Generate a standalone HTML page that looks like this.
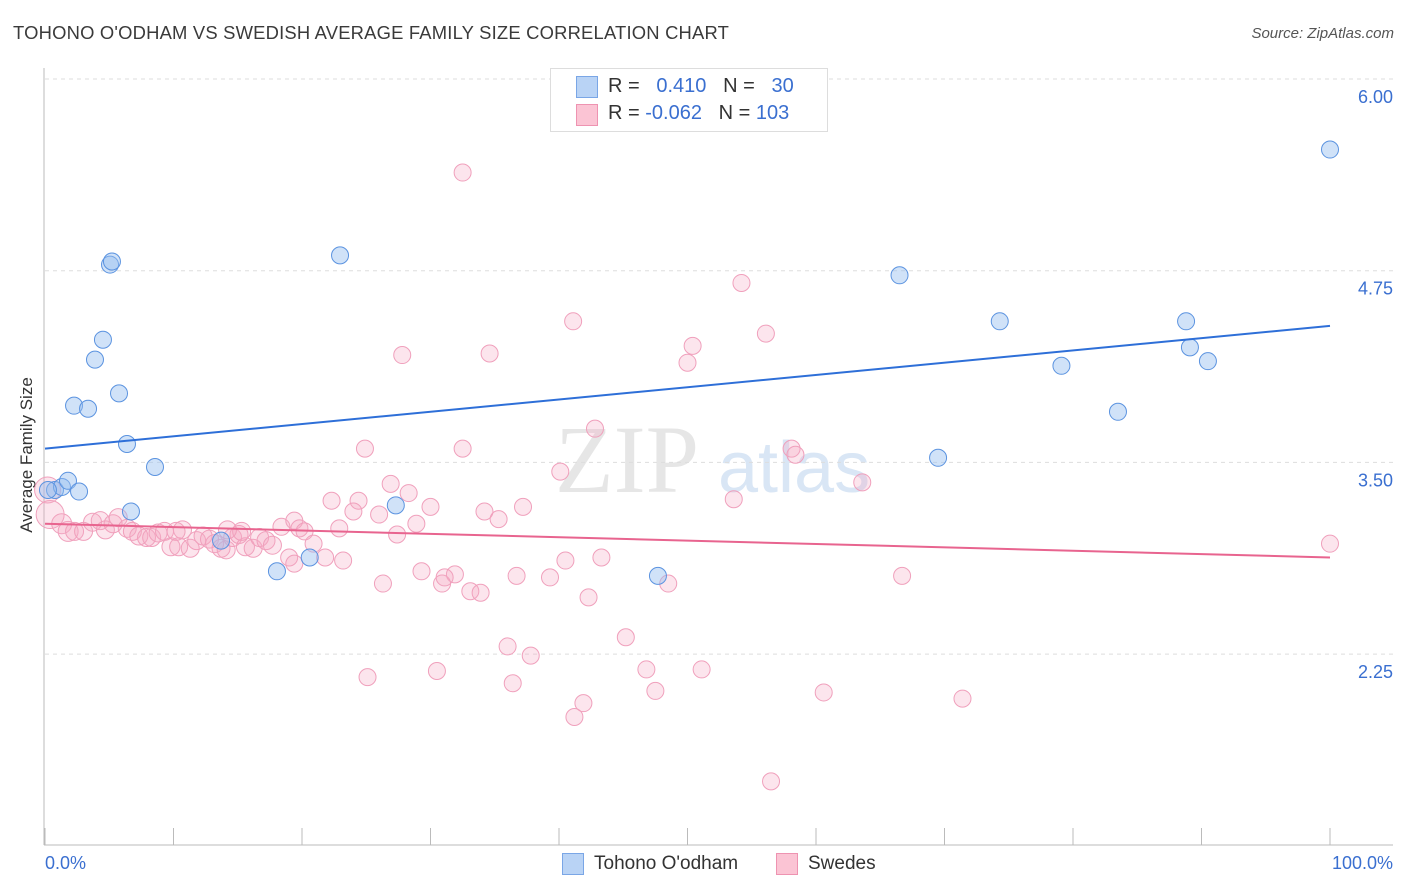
<!DOCTYPE html>
<html><head><meta charset="utf-8"><style>
body{margin:0;background:#fff;font-family:"Liberation Sans",sans-serif;}
#wrap{position:relative;width:1406px;height:892px;overflow:hidden;}
.t{position:absolute;white-space:nowrap;}
</style></head><body><div id="wrap">
<div class="t" style="left:13px;top:22px;font-size:18.4px;color:#3a3a3a;letter-spacing:0.2px">TOHONO O'ODHAM VS SWEDISH AVERAGE FAMILY SIZE CORRELATION CHART</div>
<div class="t" style="right:12px;top:25px;font-size:15px;color:#555;font-style:italic">Source: ZipAtlas.com</div>
<div class="t" style="left:27px;top:455px;font-size:17px;color:#333;transform:translate(-50%,-50%) rotate(-90deg)">Average Family Size</div>
<svg id="svg" width="1406" height="892" style="position:absolute;left:0;top:0">
<text x="555" y="492" font-family="Liberation Serif" font-size="96" fill="#e6e6e6">ZIP</text>
<text x="718" y="492" font-family="Liberation Sans" font-size="72" fill="#d9e6f5">atlas</text>
<g id="grid"></g><g id="pink"></g><g id="blue"></g><g id="lines"></g>
</svg>
<div style="position:absolute;left:550px;top:68px;width:276px;height:62px;border:1px solid #ddd;background:#fff;font-size:20px;color:#333">
<div style="position:absolute;left:25px;top:7px;width:20px;height:20px;background:#b9d3f5;border:1px solid #7aa6e6"></div>
<div style="position:absolute;left:25px;top:35px;width:20px;height:20px;background:#fbc4d4;border:1px solid #ee93b1"></div>
<div class="t" style="left:57px;top:6px">R = &nbsp;&nbsp;<span style="color:#3a6fd0">0.410</span>&nbsp;&nbsp;&nbsp;N = &nbsp;&nbsp;<span style="color:#3a6fd0">30</span></div>
<div class="t" style="left:57px;top:33px">R = <span style="color:#3a6fd0">-0.062</span>&nbsp;&nbsp;&nbsp;N = <span style="color:#3a6fd0">103</span></div>
</div>
<div style="position:absolute;left:562px;top:853px;width:20px;height:20px;background:#b9d3f5;border:1px solid #7aa6e6"></div>
<div class="t" style="left:594px;top:853px;font-size:19px;color:#333">Tohono O'odham</div>
<div style="position:absolute;left:776px;top:853px;width:20px;height:20px;background:#fbc4d4;border:1px solid #ee93b1"></div>
<div class="t" style="left:808px;top:853px;font-size:19px;color:#333">Swedes</div>
<div class="t" style="left:45px;top:853px;font-size:18px;color:#3a6fd0">0.0%</div>
<div class="t" style="right:13px;top:853px;font-size:18px;color:#3a6fd0">100.0%</div>
</div>
<script>
const yTicks=[6.00,4.75,3.50,2.25];
const yTickLabels=["6.00","4.75","3.50","2.25"];
const blueX=[0.78,1.32,1.79,2.65,2.26,3.35,3.89,4.51,5.06,5.21,5.76,6.38,6.69,8.56,13.7,18.05,20.6,22.96,27.3,47.7,66.5,69.5,74.3,79.1,83.5,88.8,89.1,90.5,100,0.23];
const blueY=[3.32,3.34,3.38,3.31,3.87,3.85,4.17,4.30,4.79,4.81,3.95,3.62,3.18,3.47,2.99,2.79,2.88,4.85,3.22,2.76,4.72,3.53,4.42,4.13,3.83,4.42,4.25,4.16,5.54,3.32];
const pinkX=[32.5,54.2,41.1,56.1,50.4,27.8,34.6,50.0,42.8,24.9,32.5,58.1,58.4,40.1,63.6,26.9,28.3,22.3,24.4,53.6,30.0,37.2,24.0,34.2,26.0,35.3,28.9,18.4,19.4,19.8,20.2,22.9,27.4,20.9,19.0,21.8,23.2,19.4,40.5,43.3,29.3,31.9,36.7,39.3,26.3,30.9,48.5,66.7,31.1,33.1,33.9,42.3,45.2,36.0,37.8,46.8,51.1,30.5,25.1,36.4,47.5,60.6,71.4,41.9,41.2,56.5,100,0.2,0.4,1.3,1.8,2.3,3.0,3.7,4.3,4.7,5.3,5.7,6.4,6.8,7.3,7.9,8.3,8.8,9.3,9.8,10.4,10.7,11.3,11.8,12.3,12.8,13.2,13.7,14.1,14.6,15.1,15.6,16.2,16.7,17.2,17.7,15.3,10.2,14.2];
const pinkY=[5.39,4.67,4.42,4.34,4.26,4.20,4.21,4.15,3.72,3.59,3.59,3.59,3.55,3.44,3.37,3.36,3.30,3.25,3.25,3.26,3.21,3.21,3.18,3.18,3.16,3.13,3.10,3.08,3.12,3.07,3.05,3.07,3.03,2.97,2.88,2.88,2.86,2.84,2.86,2.88,2.79,2.77,2.76,2.75,2.71,2.71,2.71,2.76,2.75,2.66,2.65,2.62,2.36,2.30,2.24,2.15,2.15,2.14,2.10,2.06,2.01,2.00,1.96,1.93,1.84,1.42,2.97,3.32,3.16,3.10,3.05,3.05,3.05,3.11,3.12,3.06,3.10,3.14,3.07,3.05,3.02,3.01,3.01,3.04,3.05,2.95,2.95,3.06,2.94,2.99,3.02,3.00,2.97,2.94,2.93,3.01,3.03,2.95,2.94,3.01,2.99,2.96,3.05,3.05,3.06];
const pinkR=[8.5,8.5,8.5,8.5,8.5,8.5,8.5,8.5,8.5,8.5,8.5,8.5,8.5,8.5,8.5,8.5,8.5,8.5,8.5,8.5,8.5,8.5,8.5,8.5,8.5,8.5,8.5,8.5,8.5,8.5,8.5,8.5,8.5,8.5,8.5,8.5,8.5,8.5,8.5,8.5,8.5,8.5,8.5,8.5,8.5,8.5,8.5,8.5,8.5,8.5,8.5,8.5,8.5,8.5,8.5,8.5,8.5,8.5,8.5,8.5,8.5,8.5,8.5,8.5,8.5,8.5,8.5,13,14,10,10,9,9,9,9,9,9,9,9,9,9,9,9,9,9,9,9,9,9,9,9,9,9,9,9,9,9,9,9,9,9,9,9,9,9,9];
const blueTrendX=[0,100], blueTrendY=[3.59,4.39];
const pinkTrendX=[0,100], pinkTrendY=[3.10,2.88];
const NS="http://www.w3.org/2000/svg";
function xs(v){return 45+v*12.85;}
function ys(v){return 79+(6-v)*153.36;}
function mk(tag,attrs,parent){const e=document.createElementNS(NS,tag);for(const k in attrs)e.setAttribute(k,attrs[k]);document.getElementById(parent).appendChild(e);return e;}
let e;
e=mk('line',{x1:44,y1:68,x2:44,y2:845,stroke:'#bbb','stroke-width':1},'grid');


e=mk('line',{x1:44,y1:845,x2:1393,y2:845,stroke:'#bbb','stroke-width':1},'grid');


for(let i=0;i<=10;i++){const x=xs(i*10);
e=mk('line',{x1:x,y1:828,x2:x,y2:845,stroke:'#bbb','stroke-width':1},'grid');

}
yTicks.forEach((t,i)=>{const y=ys(t);
e=mk('line',{x1:45,y1:y,x2:1393,y2:y,stroke:'#ddd','stroke-dasharray':'4,4'},'grid');


e=mk('text',{x:1393,y:y+24,'text-anchor':'end','font-size':18,fill:'#3a6fd0','font-family':'Liberation Sans'},'grid');
e.textContent=yTickLabels[i];

});
pinkX.forEach((v,i)=>{e=mk('circle',{cx:xs(v),cy:ys(pinkY[i]),r:pinkR[i],fill:'rgba(246,170,196,0.3)',stroke:'#f0a0bc','stroke-width':1},'pink');

});
blueX.forEach((v,i)=>{e=mk('circle',{cx:xs(v),cy:ys(blueY[i]),r:8.5,fill:'rgba(150,190,240,0.45)',stroke:'#5b93e0','stroke-width':1},'blue');

});
e=mk('line',{x1:xs(blueTrendX[0]),y1:ys(blueTrendY[0]),x2:xs(blueTrendX[1]),y2:ys(blueTrendY[1]),stroke:'#2e6fd8','stroke-width':2},'lines');


e=mk('line',{x1:xs(pinkTrendX[0]),y1:ys(pinkTrendY[0]),x2:xs(pinkTrendX[1]),y2:ys(pinkTrendY[1]),stroke:'#e8648f','stroke-width':2},'lines');


</script>
</body></html>
